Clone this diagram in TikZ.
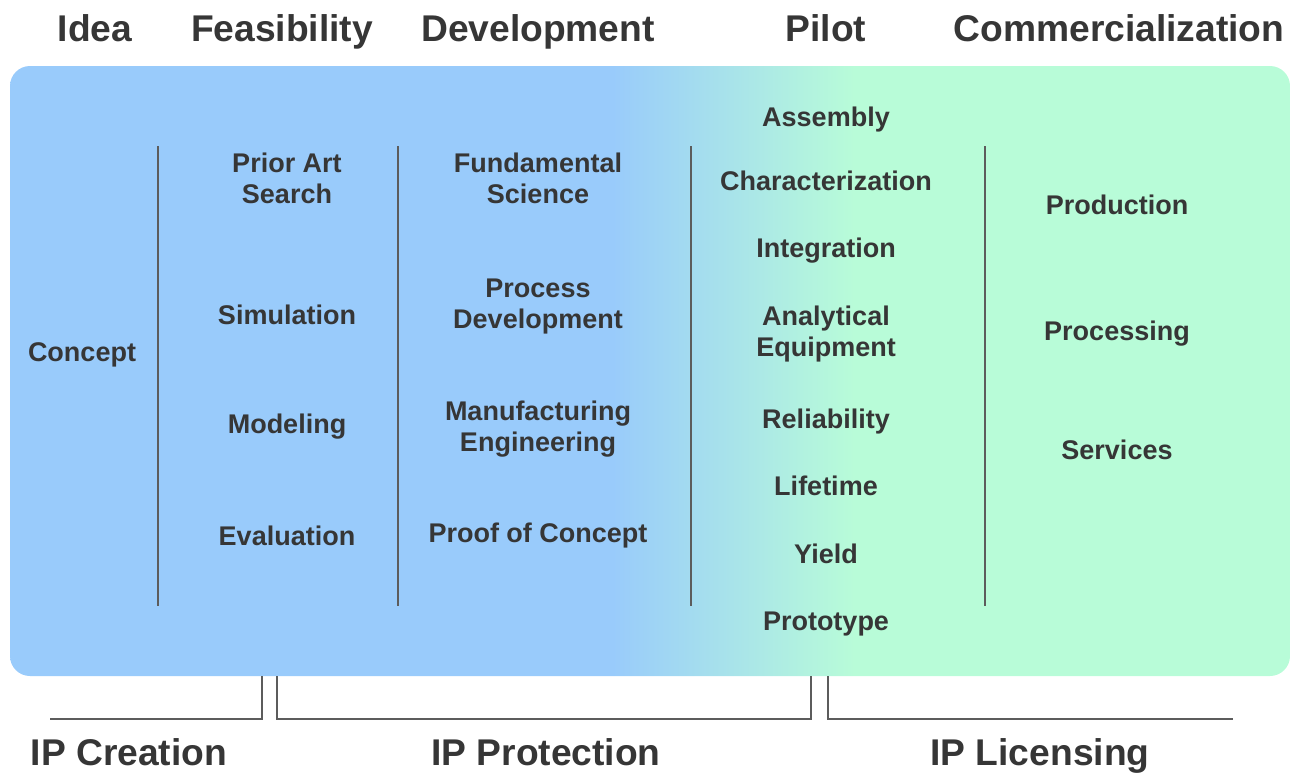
\documentclass[tikz,border=0pt]{standalone}
\usepackage{fontspec}
\setmainfont{Liberation Sans}

\definecolor{stageblue}{HTML}{99CBFB}
\definecolor{stagegreen}{HTML}{B8FCD8}
\definecolor{inktext}{HTML}{363636}
\definecolor{rulegray}{HTML}{5C5C5C}

\pgfdeclarehorizontalshading{stageshade}{100bp}{color(0bp)=(stageblue); color(48.5bp)=(stageblue); color(58bp)=(stagegreen); color(100bp)=(stagegreen)}

\tikzset{
  stage/.style={font=\bfseries\fontsize{18.6}{22}\selectfont, text=inktext, inner sep=0pt, text depth=0.22em, yshift=-1pt},
  task/.style={font=\bfseries\fontsize{13.5}{15.5}\selectfont, text=inktext, align=center, inner sep=0pt, text depth=0.22em, yshift=-1pt},
  divider/.style={draw=rulegray, line width=1pt},
  bracket/.style={draw=rulegray, line width=1pt}
}

\begin{document}
\begin{tikzpicture}[x=0.5pt,y=-0.5pt]
        \useasboundingbox (0,0) rectangle (1291,772);

        % Background board
        \shade[shading=stageshade, rounded corners=10pt] (10,66) rectangle (1290,676);

        % Stage headings
        \node[stage] (idea) at (95,28) {Idea};
        \node[stage] (feas) at (282,28) {Feasibility};
        \node[stage] (devel) at (538,28) {Development};
        \node[stage] (pilot) at (826,28) {Pilot};
        \node[stage] (comm) at (1119,28) {Commercialization};

        % Column dividers
        \draw[divider] (158,146) -- (158,606);
        \draw[divider] (398,146) -- (398,606);
        \draw[divider] (691,146) -- (691,606);
        \draw[divider] (985,146) -- (985,606);

        % Idea
        \node[task] (concept) at (82,352) {Concept};

        % Feasibility
        \node[task] (priorart) at (287,178) {Prior Art\\Search};
        \node[task] (simul) at (287,315) {Simulation};
        \node[task] (model) at (287,424) {Modeling};
        \node[task] (evalu) at (287,536) {Evaluation};

        % Development
        \node[task] (fundsci) at (538,178) {Fundamental\\Science};
        \node[task] (procdev) at (538,304) {Process\\Development};
        \node[task] (manueng) at (538,426) {Manufacturing\\Engineering};
        \node[task] (proof) at (538,533) {Proof of Concept};

        % Pilot
        \node[task] (assem) at (826,117) {Assembly};
        \node[task] (charac) at (826,181) {Characterization};
        \node[task] (integ) at (826,248) {Integration};
        \node[task] (analyt) at (826,331) {Analytical\\Equipment};
        \node[task] (relia) at (826,419) {Reliability};
        \node[task] (life) at (826,486) {Lifetime};
        \node[task] (yield) at (826,554) {Yield};
        \node[task] (proto) at (826,621) {Prototype};

        % Commercialization
        \node[task] (produ) at (1117,205) {Production};
        \node[task] (proces) at (1117,331) {Processing};
        \node[task] (servi) at (1117,450) {Services};

        % IP brackets
        \draw[bracket] (262,676) -- (262,719) -- (50,719);
        \draw[bracket] (277,676) -- (277,719) -- (811,719) -- (811,676);
        \draw[bracket] (828,676) -- (828,719) -- (1233,719);

        % IP labels
        \node[stage] (ipcreate) at (129,752) {IP Creation};
        \node[stage] (ipprotect) at (546,752) {IP Protection};
        \node[stage] (iplicense) at (1040,752) {IP Licensing};
\end{tikzpicture}
\end{document}
